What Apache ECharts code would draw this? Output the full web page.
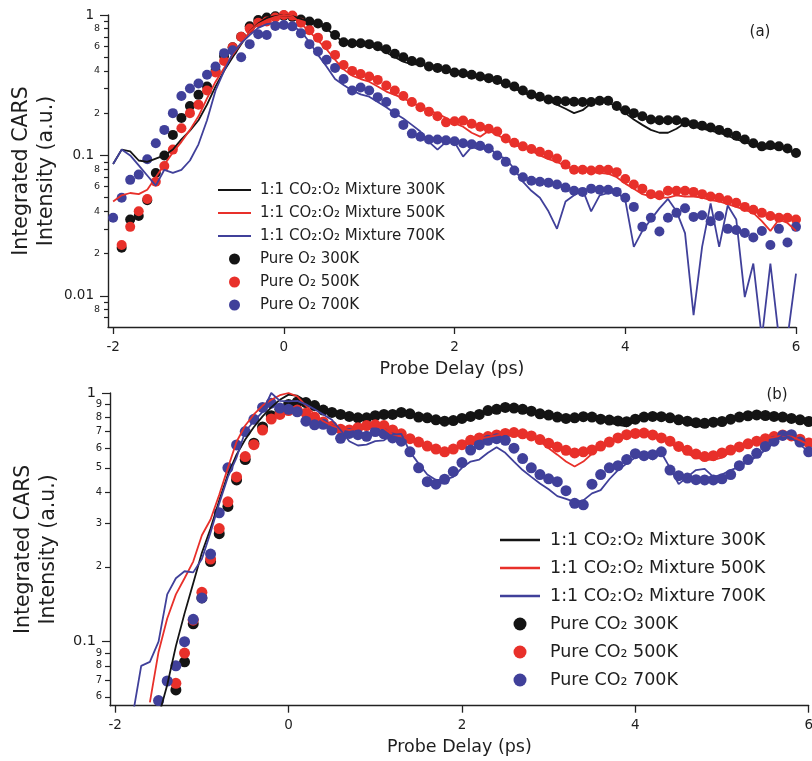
<!DOCTYPE html>
<html><head><meta charset="utf-8">
<script src="https://cdn.jsdelivr.net/npm/echarts@6/dist/echarts.min.js"></script>
<style>html,body{margin:0;padding:0;background:#fff}#c{width:812px;height:761px}</style>
</head><body><div id="c"></div>
<script>
// ---------- shared probe delay grid (ps) ----------
const delay = [-2.0,-1.9,-1.8,-1.7,-1.6,-1.5,-1.4,-1.3,-1.2,-1.1,
  -1.0,-0.9,-0.8,-0.7,-0.6,-0.5,-0.4,-0.3,-0.2,-0.1,
  0.0,0.1,0.2,0.3,0.4,0.5,0.6,0.7,0.8,0.9,
  1.0,1.1,1.2,1.3,1.4,1.5,1.6,1.7,1.8,1.9,
  2.0,2.1,2.2,2.3,2.4,2.5,2.6,2.7,2.8,2.9,
  3.0,3.1,3.2,3.3,3.4,3.5,3.6,3.7,3.8,3.9,
  4.0,4.1,4.2,4.3,4.4,4.5,4.6,4.7,4.8,4.9,
  5.0,5.1,5.2,5.3,5.4,5.5,5.6,5.7,5.8,5.9,
  6.0];

// ---------- panel (a) ----------
const a_mix300 = [0.087,0.11,0.107,0.092,0.09,0.095,0.10,0.11,0.13,0.15,
  0.178,0.23,0.31,0.40,0.50,0.62,0.76,0.87,0.95,0.98,
  1.0,0.98,0.94,0.9,0.86,0.8,0.71,0.64,0.62,0.61,
  0.6,0.58,0.54,0.5,0.465,0.445,0.445,0.43,0.415,0.40,
  0.385,0.375,0.365,0.355,0.345,0.335,0.32,0.30,0.28,0.265,
  0.255,0.245,0.23,0.215,0.2,0.21,0.235,0.245,0.24,0.22,
  0.2,0.18,0.165,0.152,0.145,0.145,0.155,0.17,0.16,0.155,
  0.15,0.145,0.138,0.13,0.125,0.118,0.112,0.112,0.113,0.11,
  0.101];
const a_mix500 = [0.047,0.052,0.054,0.053,0.057,0.07,0.086,0.105,0.125,0.152,
  0.19,0.255,0.335,0.42,0.52,0.63,0.76,0.86,0.92,0.97,
  1.0,0.98,0.87,0.76,0.66,0.57,0.48,0.41,0.37,0.35,
  0.335,0.31,0.285,0.27,0.255,0.238,0.222,0.21,0.198,0.185,
  0.17,0.16,0.145,0.136,0.15,0.14,0.13,0.118,0.115,0.108,
  0.1,0.094,0.09,0.084,0.08,0.078,0.076,0.075,0.074,0.07,
  0.063,0.058,0.053,0.051,0.05,0.05,0.052,0.051,0.051,0.05,
  0.048,0.047,0.045,0.043,0.041,0.039,0.034,0.029,0.035,0.033,
  0.029];
const a_mix700 = [0.087,0.11,0.1,0.085,0.072,0.061,0.079,0.075,0.079,0.092,
  0.12,0.178,0.29,0.40,0.533,0.63,0.72,0.81,0.86,0.88,
  0.86,0.83,0.77,0.64,0.52,0.43,0.35,0.317,0.29,0.272,
  0.262,0.24,0.22,0.2,0.183,0.165,0.148,0.125,0.11,0.125,
  0.124,0.098,0.115,0.11,0.115,0.1,0.095,0.08,0.065,0.056,
  0.05,0.04,0.03,0.047,0.052,0.057,0.04,0.052,0.054,0.055,
  0.048,0.0223,0.029,0.035,0.042,0.049,0.04,0.028,0.0073,0.0223,
  0.0455,0.0223,0.044,0.035,0.0098,0.017,0.005,0.017,0.005,0.005,
  0.0144];
const a_pure300 = [null,0.022,0.035,0.037,0.048,0.075,0.10,0.14,0.185,0.225,
  0.27,0.31,0.40,0.51,0.59,0.70,0.83,0.92,0.96,0.98,
  0.99,0.97,0.93,0.90,0.87,0.82,0.72,0.64,0.63,0.63,
  0.62,0.6,0.57,0.53,0.50,0.47,0.46,0.43,0.42,0.41,
  0.39,0.385,0.375,0.365,0.355,0.345,0.325,0.31,0.29,0.272,
  0.262,0.25,0.245,0.243,0.241,0.24,0.24,0.245,0.245,0.225,
  0.21,0.2,0.19,0.18,0.178,0.178,0.178,0.172,0.167,0.163,
  0.158,0.152,0.145,0.138,0.13,0.122,0.116,0.118,0.116,0.112,
  0.104];
const a_pure500 = [null,0.023,0.031,0.04,0.049,0.065,0.084,0.11,0.156,0.2,
  0.23,0.29,0.39,0.47,0.59,0.70,0.80,0.88,0.90,0.96,
  1.0,0.99,0.88,0.78,0.69,0.61,0.52,0.44,0.40,0.38,
  0.365,0.345,0.315,0.29,0.265,0.24,0.22,0.205,0.19,0.172,
  0.175,0.177,0.168,0.16,0.155,0.148,0.132,0.123,0.116,0.111,
  0.106,0.101,0.095,0.086,0.079,0.079,0.078,0.079,0.079,0.076,
  0.068,0.062,0.058,0.053,0.052,0.056,0.056,0.056,0.055,0.053,
  0.051,0.05,0.048,0.046,0.043,0.041,0.039,0.037,0.036,0.036,
  0.035];
const a_pure700 = [0.036,0.05,0.067,0.073,0.094,0.122,0.152,0.2,0.265,0.3,
  0.325,0.375,0.43,0.535,0.56,0.50,0.62,0.73,0.72,0.835,
  0.85,0.83,0.74,0.62,0.55,0.48,0.42,0.35,0.29,0.305,
  0.29,0.26,0.24,0.2,0.165,0.143,0.136,0.13,0.13,0.128,
  0.126,0.122,0.12,0.117,0.112,0.1,0.09,0.078,0.07,0.066,
  0.065,0.064,0.062,0.059,0.056,0.055,0.058,0.057,0.057,0.055,
  0.05,0.043,0.031,0.036,0.0287,0.036,0.039,0.042,0.0365,0.0375,
  0.034,0.037,0.03,0.0294,0.028,0.026,0.029,0.023,0.03,0.024,
  0.031];

// ---------- panel (b) ----------
const b_mix300 = [null,null,null,null,null,0.05,0.067,0.096,0.13,0.172,
  0.228,0.285,0.37,0.47,0.565,0.65,0.73,0.805,0.875,0.94,
  0.985,0.975,0.93,0.88,0.85,0.84,0.83,0.81,0.8,0.8,
  0.81,0.815,0.82,0.83,0.82,0.8,0.79,0.775,0.765,0.77,
  0.785,0.8,0.815,0.84,0.855,0.87,0.86,0.85,0.835,0.82,
  0.81,0.795,0.785,0.79,0.8,0.79,0.775,0.76,0.745,0.735,
  0.77,0.795,0.81,0.805,0.79,0.77,0.75,0.735,0.735,0.755,
  0.765,0.78,0.795,0.805,0.81,0.808,0.8,0.795,0.785,0.775,
  0.765];
const b_mix500 = [null,null,null,null,0.057,0.091,0.124,0.155,0.18,0.21,
  0.268,0.31,0.39,0.5,0.637,0.74,0.82,0.89,0.94,0.98,
  1.0,0.97,0.89,0.82,0.77,0.74,0.72,0.71,0.72,0.73,
  0.735,0.72,0.68,0.67,0.645,0.625,0.6,0.585,0.575,0.59,
  0.615,0.64,0.655,0.665,0.675,0.685,0.69,0.68,0.665,0.64,
  0.6,0.565,0.53,0.506,0.53,0.57,0.605,0.63,0.655,0.675,
  0.685,0.685,0.675,0.655,0.625,0.6,0.57,0.55,0.54,0.538,
  0.55,0.58,0.6,0.62,0.64,0.655,0.665,0.675,0.668,0.645,
  0.62];
const b_mix700 = [null,null,0.05,0.08,0.083,0.1,0.155,0.18,0.192,0.19,
  0.215,0.275,0.36,0.46,0.55,0.7,0.77,0.84,1.0,0.93,
  0.925,0.93,0.9,0.86,0.82,0.78,0.71,0.64,0.615,0.62,
  0.64,0.645,0.68,0.685,0.58,0.52,0.47,0.447,0.447,0.46,
  0.5,0.53,0.54,0.575,0.605,0.575,0.53,0.49,0.46,0.433,
  0.41,0.385,0.375,0.365,0.37,0.395,0.407,0.45,0.49,0.52,
  0.55,0.565,0.54,0.575,0.5,0.43,0.46,0.49,0.495,0.46,
  0.47,0.49,0.505,0.53,0.555,0.59,0.63,0.68,0.66,0.62,
  0.58];
const b_pure300 = [null,null,null,null,null,null,null,0.064,0.083,0.118,
  0.15,0.21,0.272,0.35,0.447,0.54,0.628,0.73,0.81,0.86,
  0.9,0.92,0.915,0.89,0.854,0.835,0.82,0.805,0.795,0.795,
  0.81,0.82,0.82,0.835,0.825,0.8,0.795,0.78,0.77,0.775,
  0.79,0.805,0.82,0.85,0.86,0.875,0.87,0.86,0.845,0.825,
  0.815,0.8,0.79,0.795,0.803,0.8,0.785,0.778,0.772,0.767,
  0.785,0.8,0.805,0.803,0.795,0.78,0.77,0.76,0.755,0.763,
  0.768,0.785,0.8,0.81,0.816,0.812,0.805,0.8,0.79,0.78,
  0.768];
const b_pure500 = [null,null,null,null,null,null,null,0.068,0.09,0.122,
  0.158,0.215,0.285,0.365,0.46,0.555,0.62,0.71,0.786,0.82,
  0.85,0.854,0.83,0.8,0.765,0.735,0.715,0.71,0.725,0.74,
  0.745,0.74,0.71,0.685,0.655,0.635,0.612,0.595,0.58,0.595,
  0.62,0.645,0.66,0.668,0.678,0.688,0.693,0.685,0.672,0.65,
  0.628,0.607,0.588,0.574,0.58,0.59,0.612,0.635,0.66,0.68,
  0.688,0.69,0.678,0.66,0.64,0.61,0.588,0.568,0.555,0.56,
  0.574,0.59,0.607,0.625,0.64,0.655,0.668,0.678,0.672,0.652,
  0.63];
const b_pure700 = [null,null,null,null,null,0.058,0.0695,0.08,0.1,0.123,
  0.15,0.225,0.33,0.5,0.618,0.7,0.784,0.875,0.91,0.87,
  0.86,0.84,0.77,0.745,0.748,0.71,0.657,0.688,0.68,0.67,
  0.70,0.685,0.66,0.64,0.58,0.5,0.44,0.43,0.45,0.483,
  0.525,0.59,0.62,0.645,0.655,0.645,0.6,0.545,0.5,0.47,
  0.452,0.44,0.405,0.36,0.355,0.43,0.47,0.5,0.51,0.54,
  0.57,0.56,0.565,0.58,0.49,0.465,0.455,0.448,0.447,0.447,
  0.452,0.47,0.51,0.54,0.572,0.61,0.64,0.675,0.68,0.635,
  0.58];

// ---------- labels / ticks ----------
const namesA = ['1:1 CO\u2082:O\u2082 Mixture 300K','1:1 CO\u2082:O\u2082 Mixture 500K','1:1 CO\u2082:O\u2082 Mixture 700K','Pure O\u2082 300K','Pure O\u2082 500K','Pure O\u2082 700K'];
const namesB = ['1:1 CO\u2082:O\u2082 Mixture 300K','1:1 CO\u2082:O\u2082 Mixture 500K','1:1 CO\u2082:O\u2082 Mixture 700K','Pure CO\u2082 300K','Pure CO\u2082 500K','Pure CO\u2082 700K'];
const xTicks = [-2,0,2,4,6];
const xLabels = ['-2','0','2','4','6'];
const aMajorTicks = [0.01,0.1,1];
const aMajorLabels = ['0.01','0.1','1'];
const aMinorTicks = [0.007,0.008,0.009,0.02,0.03,0.04,0.05,0.06,0.07,0.08,0.09,0.2,0.3,0.4,0.5,0.6,0.7,0.8,0.9];
const aMinorLabelVals = [0.008,0.02,0.04,0.06,0.08,0.2,0.4,0.6,0.8];
const aMinorLabels = ['8','2','4','6','8','2','4','6','8'];
const bMajorTicks = [0.1,1];
const bMajorLabels = ['0.1','1'];
const bMinorTicks = [0.06,0.07,0.08,0.09,0.2,0.3,0.4,0.5,0.6,0.7,0.8,0.9];
const bMinorLabels = ['6','7','8','9','2','3','4','5','6','7','8','9'];
const xName = 'Probe Delay (ps)';
const yName = 'Integrated CARS\nIntensity (a.u.)';

const FONT = '"DejaVu Sans", "Open Sans", sans-serif';
const TXT = '#1e1e1e';
const COL = ['#141414', '#e8302a', '#40409a'];
const LINE_ICON = 'path://M0,0L40,0L40,2.6L0,2.6Z';

function lookup(vals, labels, v) {
  for (let i = 0; i < vals.length; i++) {
    if (Math.abs(Math.log10(v) - Math.log10(vals[i])) < 1e-4) return labels[i];
  }
  return '';
}
function lookupX(v) {
  for (let i = 0; i < xTicks.length; i++) if (Math.abs(v - xTicks[i]) < 1e-6) return xLabels[i];
  return '';
}
function pairs(ys) {
  const out = [];
  for (let i = 0; i < delay.length; i++) if (ys[i] != null) out.push([delay[i], ys[i]]);
  return out;
}

function xAx(gi) {
  return {
    type: 'value', gridIndex: gi, min: -2.06, max: 6, position: 'bottom',
    axisLine: { show: true, onZero: false, lineStyle: { color: '#222', width: 1.4 } },
    axisTick: { show: true, inside: false, length: 7, customValues: xTicks, lineStyle: { color: '#222', width: 1.3 } },
    axisLabel: { show: true, customValues: xTicks, margin: 13, fontSize: 13.5, fontFamily: FONT, color: TXT, formatter: lookupX },
    splitLine: { show: false }, minorTick: { show: false },
    name: xName, nameLocation: 'middle', nameGap: 33, nameMoveOverlap: false,
    nameTextStyle: { fontSize: 17.5, fontFamily: FONT, color: TXT }
  };
}
function yAx(gi, min, ticks, lvals, labels, tickLen, margin, fs, isMajor) {
  const o = {
    type: 'log', logBase: 10, gridIndex: gi, min: min, max: 1, position: 'left', offset: 0,
    axisLine: { show: isMajor, onZero: false, lineStyle: { color: '#222', width: 1.4 } },
    axisTick: { show: true, inside: false, length: tickLen, customValues: ticks, lineStyle: { color: '#222', width: 1.2 } },
    axisLabel: { show: true, customValues: lvals, margin: margin, fontSize: fs, fontFamily: FONT, color: TXT,
      formatter: function (v) { return lookup(lvals, labels, v); } },
    splitLine: { show: false }, minorTick: { show: false }, minorSplitLine: { show: false }
  };
  if (isMajor) {
    o.name = yName; o.nameLocation = 'middle'; o.nameRotate = 90; o.nameGap = 49; o.nameMoveOverlap = false;
    o.nameTextStyle = { fontSize: 20.5, lineHeight: 25, fontFamily: FONT, color: TXT, align: 'center' };
  }
  return o;
}

function lineS(id, data, color, xi, yi) {
  return { id: id, name: id, type: 'line', xAxisIndex: xi, yAxisIndex: yi, data: pairs(data),
    symbol: 'none', showSymbol: false, smooth: false, clip: true, z: 4,
    lineStyle: { color: color, width: 1.8 }, itemStyle: { color: color }, emphasis: { disabled: true } };
}
function dotS(id, data, color, xi, yi, size) {
  return { id: id, name: id, type: 'scatter', xAxisIndex: xi, yAxisIndex: yi, data: pairs(data),
    symbol: 'circle', symbolSize: size, clip: true, z: 3,
    itemStyle: { color: color, opacity: 1 }, emphasis: { disabled: true } };
}

const idsA = ['a_mix300','a_mix500','a_mix700','a_pure300','a_pure500','a_pure700'];
const idsB = ['b_mix300','b_mix500','b_mix700','b_pure300','b_pure500','b_pure700'];
const labelOf = {};
idsA.forEach((k, i) => labelOf[k] = namesA[i]);
idsB.forEach((k, i) => labelOf[k] = namesB[i]);
function legendData(ids) {
  return ids.map((k, i) => i < 3 ? { name: k, icon: LINE_ICON } : { name: k, icon: 'circle' });
}

const option = {
  animation: false,
  backgroundColor: '#ffffff',
  grid: [
    { left: 108, top: 15, width: 688, height: 312, containLabel: false, outerBoundsMode: 'none' },
    { left: 110, top: 393, width: 698.7, height: 312.7, containLabel: false, outerBoundsMode: 'none' }
  ],
  xAxis: [xAx(0), xAx(1)],
  yAxis: [
    yAx(0, 0.006, aMajorTicks, aMajorTicks, aMajorLabels, 8, 14, 13.5, true),
    yAx(0, 0.006, aMinorTicks, aMinorLabelVals, aMinorLabels, 4, 8, 9.5, false),
    yAx(1, 0.0553, bMajorTicks, bMajorTicks, bMajorLabels, 8, 14, 14.5, true),
    yAx(1, 0.0553, bMinorTicks, bMinorTicks, bMinorLabels, 5, 8, 10, false)
  ],
  legend: [
    { data: legendData(idsA), orient: 'vertical', left: 218, top: 182, itemWidth: 33, itemHeight: 11, itemGap: 7,
      selectedMode: false, padding: 0,
      formatter: n => labelOf[n],
      textStyle: { fontSize: 15, lineHeight: 16, fontFamily: FONT, color: TXT, padding: [0, 0, 0, 4] } },
    { data: legendData(idsB), orient: 'vertical', left: 500, top: 530, itemWidth: 40, itemHeight: 13, itemGap: 8,
      selectedMode: false, padding: 0,
      formatter: n => labelOf[n],
      textStyle: { fontSize: 17.5, lineHeight: 20, fontFamily: FONT, color: TXT, padding: [0, 0, 0, 5] } }
  ],
  graphic: [
    { type: 'text', x: 760, y: 32, style: { text: '(a)', fontSize: 15, fontFamily: FONT, fill: TXT, textAlign: 'center', textVerticalAlign: 'middle' } },
    { type: 'text', x: 777, y: 395, style: { text: '(b)', fontSize: 15, fontFamily: FONT, fill: TXT, textAlign: 'center', textVerticalAlign: 'middle' } }
  ],
  series: [
    dotS('a_pure300', a_pure300, COL[0], 0, 0, 10),
    dotS('a_pure500', a_pure500, COL[1], 0, 0, 10),
    dotS('a_pure700', a_pure700, COL[2], 0, 0, 10),
    lineS('a_mix300', a_mix300, COL[0], 0, 0),
    lineS('a_mix500', a_mix500, COL[1], 0, 0),
    lineS('a_mix700', a_mix700, COL[2], 0, 0),
    dotS('b_pure300', b_pure300, COL[0], 1, 2, 11),
    dotS('b_pure500', b_pure500, COL[1], 1, 2, 11),
    dotS('b_pure700', b_pure700, COL[2], 1, 2, 11),
    lineS('b_mix300', b_mix300, COL[0], 1, 2),
    lineS('b_mix500', b_mix500, COL[1], 1, 2),
    lineS('b_mix700', b_mix700, COL[2], 1, 2)
  ]
};
const chart = echarts.init(document.getElementById('c'), null, { renderer: 'canvas', width: 812, height: 761 });
chart.setOption(option);
</script></body></html>
